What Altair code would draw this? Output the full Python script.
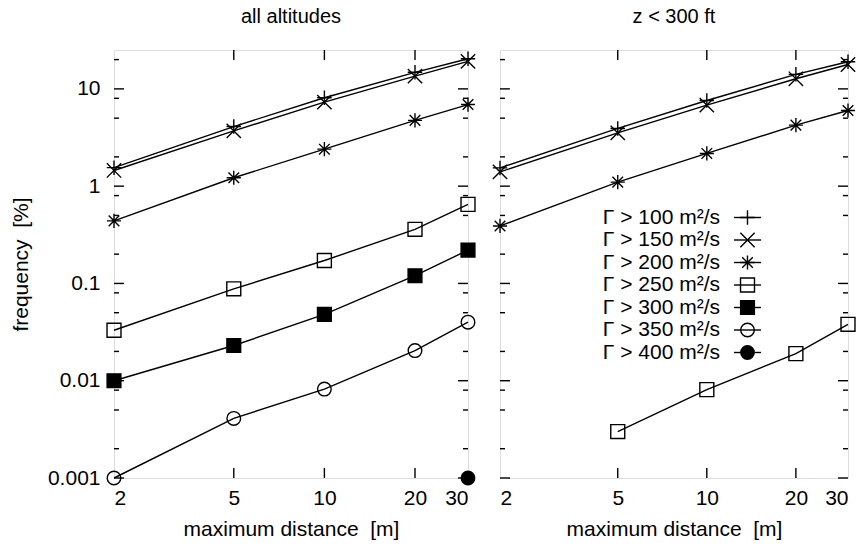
import altair as alt
import pandas as pd

FONT = "Liberation Sans"

# ---------------- data ----------------
distances = [2, 5, 10, 20, 30]
series_names = ["Γ > 100 m²/s", "Γ > 150 m²/s", "Γ > 200 m²/s", "Γ > 250 m²/s",
                "Γ > 300 m²/s", "Γ > 350 m²/s", "Γ > 400 m²/s"]

# panel "all altitudes"
all_g100 = [1.55, 4.1, 8.1, 14.8, 20.4]
all_g150 = [1.45, 3.7, 7.3, 13.5, 19.2]
all_g200 = [0.44, 1.22, 2.4, 4.75, 6.9]
all_g250 = [0.033, 0.088, 0.172, 0.36, 0.65]
all_g300 = [0.010, 0.023, 0.048, 0.12, 0.22]
all_g350 = [0.001, 0.0041, 0.0082, 0.0204, 0.040]
all_g400 = [None, None, None, None, 0.001]

# panel "z < 300 ft"
low_g100 = [1.54, 3.92, 7.6, 14.1, 19.0]
low_g150 = [1.40, 3.53, 6.8, 12.7, 17.8]
low_g200 = [0.39, 1.10, 2.17, 4.24, 6.0]
low_g250 = [None, 0.003, 0.0081, 0.019, 0.038]

# tick labels
x_tick_values = [2, 5, 10, 20, 30]
x_inner_ticks = [5, 10, 20]
y_decades = [0.001, 0.01, 0.1, 1, 10]
y_minor_mult = [2, 5, 8]

# ---------------- styles ----------------
shape_range = [
    "M-1,0L1,0M0,-1L0,1",
    "M-1,-1L1,1M-1,1L1,-1",
    "M-1,0L1,0M0,-1L0,1M-0.75,-0.75L0.75,0.75M-0.75,0.75L0.75,-0.75",
    "square", "square", "circle", "circle",
]
fill_range = ["transparent", "transparent", "transparent", "transparent",
              "black", "transparent", "black"]
size_range = [210, 180, 210, 190, 190, 190, 190]

H = 428
W1 = 354
W2 = 348
FS = 21

xscale = alt.Scale(type="log", domain=[2, 30], nice=False)
yscale = alt.Scale(type="log", domain=[0.001, 25.1], nice=False)
shape_scale = alt.Scale(domain=series_names, range=shape_range)
fill_scale = alt.Scale(domain=series_names, range=fill_range)
size_scale = alt.Scale(domain=series_names, range=size_range)

x_axis = alt.Axis(values=x_tick_values, format="d", ticks=False, domain=False, grid=False,
                  labelFontSize=FS, labelFont=FONT, labelPadding=9, labelColor="black",
                  title="maximum distance\u00a0 [m]", titleFont=FONT, titleFontSize=FS,
                  titleFontWeight="normal", titlePadding=10, titleColor="black")


def y_axis(show):
    if show:
        return alt.Axis(values=y_decades, format="~g", ticks=False, domain=False, grid=False,
                        labelFontSize=FS, labelFont=FONT, labelPadding=14, labelColor="black",
                        title="frequency\u00a0 [%]", titleFont=FONT, titleFontSize=FS,
                        titleFontWeight="normal", titlePadding=16, titleColor="black")
    return alt.Axis(values=y_decades, labels=False, ticks=False, domain=False, grid=False,
                    title=None)


def make_df(lists):
    rows = []
    for name, vals in zip(series_names, lists):
        for d, v in zip(distances, vals):
            if v is not None:
                rows.append({"series": name, "dist": d, "freq": v})
    return pd.DataFrame(rows)


def panel(lists, title, W, show_y):
    df = make_df(lists)
    X = alt.X("dist:Q", scale=xscale, axis=x_axis)
    Y = alt.Y("freq:Q", scale=yscale, axis=y_axis(show_y))
    lines = alt.Chart(df).mark_line(color="black", strokeWidth=1.4).encode(
        x=X, y=Y, detail="series:N")
    points = alt.Chart(df).mark_point(stroke="black", strokeWidth=1.4, opacity=1).encode(
        x=X, y=Y,
        shape=alt.Shape("series:N", scale=shape_scale, legend=None),
        fill=alt.Fill("series:N", scale=fill_scale, legend=None),
        size=alt.Size("series:N", scale=size_scale, legend=None),
    )
    xt = pd.DataFrame({"d": x_inner_ticks})
    XT = alt.X("d:Q", scale=xscale, axis=x_axis)
    tb = alt.Chart(xt).mark_rule(color="black", strokeWidth=1.4).encode(
        x=XT, y=alt.value(H), y2=alt.value(H - 10))
    tt = alt.Chart(xt).mark_rule(color="black", strokeWidth=1.4).encode(
        x=XT, y=alt.value(0), y2=alt.value(10))
    yt = pd.DataFrame({"v": y_decades})
    minors = [m * d for d in y_decades for m in y_minor_mult if m * d <= 25]
    ym = pd.DataFrame({"v": minors})
    YT = alt.Y("v:Q", scale=yscale, axis=y_axis(show_y))
    tl = alt.Chart(yt).mark_rule(color="black", strokeWidth=1.4).encode(
        y=YT, x=alt.value(0), x2=alt.value(10))
    tr = alt.Chart(yt).mark_rule(color="black", strokeWidth=1.4).encode(
        y=YT, x=alt.value(W), x2=alt.value(W - 10))
    ml = alt.Chart(ym).mark_rule(color="black", strokeWidth=1.4).encode(
        y=YT, x=alt.value(0), x2=alt.value(5))
    mr = alt.Chart(ym).mark_rule(color="black", strokeWidth=1.4).encode(
        y=YT, x=alt.value(W), x2=alt.value(W - 5))
    return alt.layer(tb, tt, tl, tr, ml, mr, lines, points).properties(
        width=W, height=H,
        title=alt.Title(title, font=FONT, fontSize=20, fontWeight="normal", color="black",
                        offset=22, anchor="middle"))


left = panel([all_g100, all_g150, all_g200, all_g250, all_g300, all_g350, all_g400],
             "all altitudes", W1, True)

right_main = panel([low_g100, low_g150, low_g200, low_g250, [None] * 5, [None] * 5, [None] * 5],
                   "z < 300 ft", W2, False)

# legend inside right panel
leg = pd.DataFrame({"series": series_names, "row": list(range(len(series_names)))})
LY = alt.Y("row:Q", scale=alt.Scale(domain=[0, 6], range=[167.5, 302.5]), axis=None)
leg_text = alt.Chart(leg).mark_text(align="right", baseline="middle", font=FONT,
                                    fontSize=FS, color="black").encode(
    y=LY, x=alt.value(220), text="series:N")
leg_line = alt.Chart(leg).mark_rule(color="black", strokeWidth=1.4).encode(
    y=LY, x=alt.value(234), x2=alt.value(261))
leg_pts = alt.Chart(leg).mark_point(stroke="black", strokeWidth=1.4, opacity=1).encode(
    y=LY, x=alt.value(247.5),
    shape=alt.Shape("series:N", scale=shape_scale, legend=None),
    fill=alt.Fill("series:N", scale=fill_scale, legend=None),
    size=alt.Size("series:N", scale=size_scale, legend=None),
)
legend_layer = alt.layer(leg_text, leg_line, leg_pts)

right = alt.layer(right_main, legend_layer).resolve_scale(y="independent").properties(
    width=W2, height=H)

chart = alt.hconcat(left, right, spacing=32, bounds="flush").properties(
    padding={"left": 9, "top": 6, "right": 0, "bottom": 4}
).configure_view(stroke="black", strokeWidth=1.4).configure(background="white")

chart.save("out.html", embed_options={"renderer": "svg", "actions": False})
